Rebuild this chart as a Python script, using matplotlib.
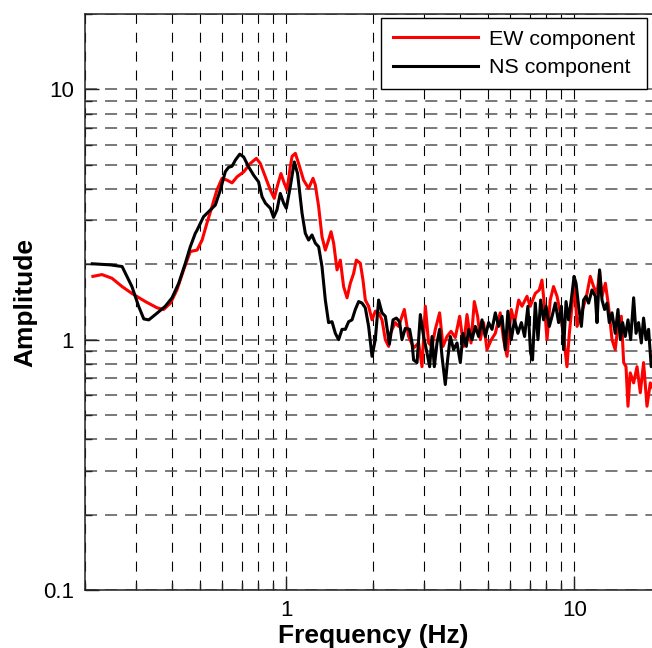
import matplotlib
matplotlib.use('Agg')
import matplotlib.pyplot as plt
from matplotlib.ticker import FixedLocator, FixedFormatter, LogLocator, NullFormatter

# EW component (red)
ew_freq = [0.213, 0.229, 0.248, 0.269, 0.291, 0.324, 0.356, 0.375, 0.396, 0.417,
           0.440, 0.464, 0.490, 0.510, 0.530, 0.552, 0.574, 0.598, 0.622, 0.648,
           0.674, 0.711, 0.750, 0.787, 0.812, 0.846, 0.880, 0.908, 0.933, 0.958,
           0.984, 1.006, 1.032, 1.047, 1.075, 1.103, 1.148, 1.195, 1.238, 1.261,
           1.295, 1.330, 1.366, 1.402, 1.430, 1.460, 1.500, 1.540, 1.581, 1.625,
           1.668, 1.713, 1.750, 1.807, 1.846, 1.881, 1.931, 1.984, 2.037, 2.092,
           2.149, 2.207, 2.266,
           2.297, 2.390, 2.453, 2.569, 2.659, 2.767, 2.880, 2.959,
           3.039, 3.120, 3.206, 3.291, 3.406, 3.500, 3.613, 3.731,
           3.861, 3.998, 4.128, 4.24, 4.378, 4.496, 4.616, 4.717,
           4.843, 4.975, 5.15, 5.318, 5.53, 5.68, 5.84, 6.04,
           6.20, 6.41, 6.58, 6.85, 7.03, 7.32, 7.56, 7.72,
           7.88, 8.04, 8.25, 8.47, 8.71, 8.94, 9.18, 9.43,
           9.61, 9.82, 10.02, 10.22, 10.49, 10.77, 11.07, 11.36,
           11.67, 11.99, 12.24, 12.48, 12.82, 13.15, 13.52, 13.87,
           14.25, 14.56, 14.84, 15.12, 15.36, 15.64, 16.07, 16.51,
           16.95, 17.40, 17.88, 18.36, 19.0, 19.6]
ew_amp = [1.79, 1.82, 1.76, 1.63, 1.53, 1.42, 1.34, 1.32, 1.40, 1.58,
          1.90, 2.25, 2.28, 2.50, 2.92, 3.40, 3.96, 4.41, 4.34, 4.23,
          4.47, 4.68, 5.06, 5.30, 5.06, 4.47, 3.96, 3.67, 4.15, 4.61,
          4.21, 3.96, 4.90, 5.40, 5.55, 5.06, 4.34, 4.02, 4.41, 4.15,
          3.40, 2.58, 2.28, 2.50, 2.70, 2.43, 1.90, 2.08, 1.63, 1.47,
          1.68, 1.84, 2.08, 2.02, 1.73, 1.44, 1.36, 1.20, 1.30, 1.28,
          1.20, 1.00, 0.94,
          1.06, 1.17, 1.13, 1.32, 1.03, 0.927, 0.97, 0.78,
          1.36, 0.97, 0.94, 1.10, 1.28, 0.94, 1.03, 1.08,
          1.02, 1.24, 0.94, 1.26, 0.97, 1.42, 1.24, 1.00,
          1.17, 0.912, 1.00, 1.06, 1.28, 1.00, 0.858, 1.32,
          1.17, 1.44, 1.36, 1.49, 1.36, 1.53, 1.58, 1.73,
          1.36, 1.00, 1.44, 1.63, 1.49, 1.28, 1.03, 0.78,
          1.06, 1.36, 1.73, 1.13, 1.24, 1.36, 1.53, 1.79,
          1.63, 1.53, 1.87, 1.49, 1.68, 1.36, 1.00, 0.912,
          1.20, 1.24, 0.81, 0.78, 0.542, 0.737, 0.672, 0.78,
          0.614, 0.81, 0.542, 0.672, 0.62, 0.58]

# NS component (black)
ns_freq = [0.212, 0.245, 0.269, 0.291, 0.307, 0.320, 0.333, 0.351, 0.380, 0.401,
           0.423, 0.446, 0.464, 0.483, 0.490, 0.516, 0.545, 0.567, 0.590, 0.614,
           0.630, 0.648, 0.665, 0.689, 0.711, 0.740, 0.770, 0.801, 0.824, 0.846,
           0.880, 0.903, 0.928, 0.953, 0.979, 1.000, 1.032, 1.066, 1.094, 1.134,
           1.164, 1.195, 1.228, 1.261, 1.295, 1.330, 1.366, 1.402, 1.441, 1.480,
           1.519, 1.561, 1.603, 1.646, 1.691, 1.736, 1.783, 1.832, 1.881, 1.931,
           1.984, 2.037, 2.092, 2.149, 2.207, 2.280,
           2.347, 2.410, 2.474, 2.521, 2.589, 2.680, 2.733, 2.767,
           2.844, 2.920, 2.997, 3.080, 3.145, 3.206, 3.265, 3.336,
           3.406, 3.472, 3.565, 3.631, 3.710, 3.810, 3.915, 4.020,
           4.108, 4.217, 4.296, 4.414, 4.53, 4.653, 4.781, 4.909,
           5.041, 5.18, 5.318, 5.46, 5.61, 5.76, 5.88, 6.04,
           6.20, 6.37, 6.55, 6.72, 6.90, 7.05, 7.16, 7.32,
           7.48, 7.64, 7.82, 7.98, 8.19, 8.37, 8.59, 8.82,
           9.02, 9.18, 9.36, 9.55, 9.76, 9.98, 10.14, 10.35,
           10.58, 10.77, 10.98, 11.21, 11.52, 11.83, 11.99, 12.24,
           12.48, 12.74, 12.99, 13.23, 13.52, 13.87, 14.18, 14.45,
           14.72, 15.03, 15.36, 15.69, 16.07, 16.38, 16.72, 17.09,
           17.40, 17.74, 18.11, 18.50, 19.0, 19.6]
ns_amp = [2.01, 1.99, 1.96, 1.63, 1.36, 1.21, 1.20, 1.26, 1.36, 1.47,
          1.68, 2.02, 2.35, 2.66, 2.74, 3.10, 3.30, 3.45, 3.96, 4.69,
          4.88, 4.93, 5.21, 5.51, 5.37, 4.90, 4.54, 4.27, 3.72, 3.51,
          3.35, 3.08, 3.30, 3.84, 3.51, 3.35, 4.08, 5.13, 4.61, 3.20,
          2.66, 2.50, 2.62, 2.43, 2.35, 1.96, 1.44, 1.17, 1.18, 1.06,
          1.00, 1.10, 1.10, 1.18, 1.20, 1.32, 1.42, 1.40, 1.34, 1.13,
          0.858, 1.00, 1.44, 1.28, 1.24, 0.96,
          1.20, 1.22, 1.18, 1.00, 1.11, 1.10, 0.97, 0.83,
          0.81, 1.26, 1.03, 0.885, 0.78, 1.03, 0.78, 0.97,
          1.10, 0.858, 0.662, 0.83, 1.03, 0.912, 0.97, 0.81,
          1.06, 0.94, 1.10, 1.00, 1.13, 1.03, 1.20, 1.03,
          1.17, 1.10, 1.28, 1.13, 1.24, 0.912, 1.30, 1.00,
          1.20, 1.06, 1.17, 1.03, 1.36, 0.885, 0.83, 1.40,
          1.00, 1.44, 1.20, 1.36, 1.13, 1.24, 1.40, 1.17,
          1.36, 0.912, 1.42, 1.20, 1.44, 1.79, 1.68, 1.36,
          1.13, 1.44, 1.49, 1.40, 1.58, 1.49, 1.17, 1.90,
          1.44, 1.32, 1.40, 1.17, 1.28, 1.06, 1.32, 1.00,
          1.17, 1.03, 1.20, 1.00, 1.47, 1.06, 1.17, 0.97,
          1.22, 1.00, 1.10, 0.78, 0.92, 0.85]

x_ticks = [1, 10]
x_labels = ['1', '10']
y_ticks = [0.1, 1, 10]
y_labels = ['0.1', '1', '10']

plt.rcParams['font.family'] = ['Liberation Sans', 'DejaVu Sans']

fig = plt.figure(figsize=(6.52, 6.48), dpi=100)
# axes runs a bit past the right edge of the picture, like the reference
ax = fig.add_axes([0.1304, 0.0895, 0.8834, 0.8889])

ax.plot(ew_freq, ew_amp, color='#ff0000', lw=2.2, label='EW component', zorder=3)
ax.plot(ns_freq, ns_amp, color='black', lw=2.2, label='NS component', zorder=4)

ax.set_xscale('log')
ax.set_yscale('log')
ax.set_xlim(0.2, 20)
ax.set_ylim(0.1, 20)

ax.xaxis.set_major_locator(FixedLocator(x_ticks))
ax.xaxis.set_major_formatter(FixedFormatter(x_labels))
ax.xaxis.set_minor_locator(LogLocator(base=10, subs=range(2, 10)))
ax.xaxis.set_minor_formatter(NullFormatter())
ax.yaxis.set_major_locator(FixedLocator(y_ticks))
ax.yaxis.set_major_formatter(FixedFormatter(y_labels))
ax.yaxis.set_minor_locator(LogLocator(base=10, subs=range(2, 10)))
ax.yaxis.set_minor_formatter(NullFormatter())

ax.grid(True, which='both', axis='x', color='black', lw=0.8, linestyle=(0, (9, 8)))
ax.grid(True, which='both', axis='y', color='#555555', lw=1.1, linestyle=(0, (7.9, 5.2)))
ax.set_axisbelow(True)

ax.tick_params(which='both', direction='in', width=1, colors='#222222')
ax.tick_params(which='major', length=10, labelsize=16, labelcolor='black')
ax.tick_params(which='minor', length=5)
ax.tick_params(axis='x', which='major', pad=7)
ax.tick_params(axis='y', which='major', pad=8)
for sp in ax.spines.values():
    sp.set_linewidth(1.1)
    sp.set_color('#222222')

ax.set_xlabel('Frequency (Hz)', fontsize=19, fontweight='bold', labelpad=2)
ax.set_ylabel('Amplitude', fontsize=19, fontweight='bold', labelpad=4)

leg = ax.legend(loc='upper right', bbox_to_anchor=(647 / 652, 1 - 18 / 648),
                bbox_transform=fig.transFigure, borderaxespad=0, fontsize=15.4,
                fancybox=False, edgecolor='black', framealpha=1, borderpad=0.55,
                handlelength=4.0, handletextpad=0.5, labelspacing=0.45)
leg.get_frame().set_linewidth(1.0)

fig.savefig('out.png', dpi=100)
